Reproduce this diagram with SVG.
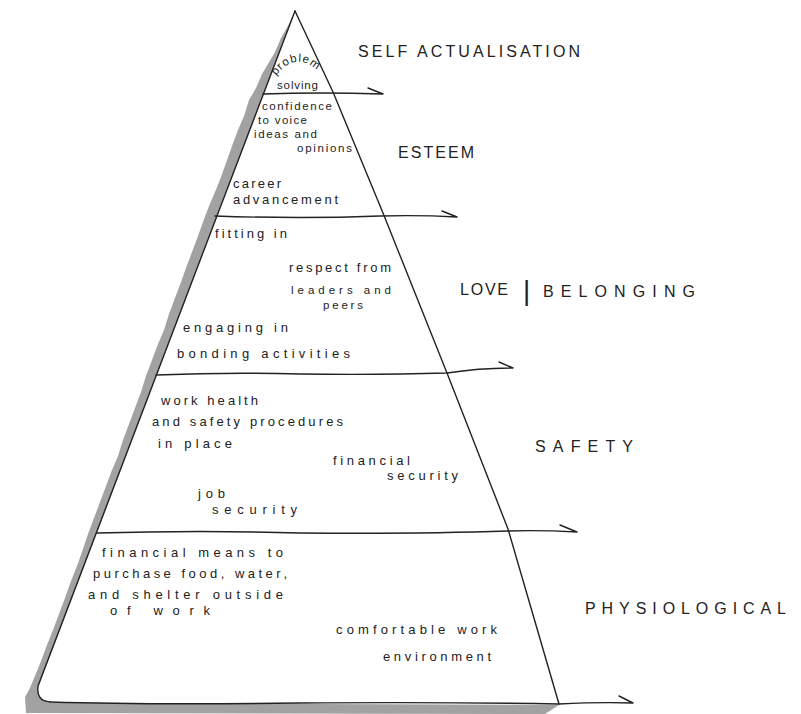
<svg xmlns="http://www.w3.org/2000/svg" width="801" height="714" viewBox="0 0 801 714">
  <style>
    .ink { fill: none; stroke: #222; stroke-width: 1.4; stroke-linecap: round; stroke-linejoin: round; }
    .note { font-family: "Liberation Sans", "DejaVu Sans", sans-serif; font-size: 13px; fill: #222; }
    .tight { font-size: 11.5px; }
    .tier { font-family: "Liberation Sans", "DejaVu Sans", sans-serif; font-size: 16px; fill: #222; }
  </style>
  <rect width="801" height="714" fill="#fff"/>

  <!-- drop shadow along the left side and underneath -->
  <path id="shadow" fill="#a2a2a2"
        d="M295,11 L289,24 L281,38 L275,52 L268,64 L262,74 L256,88 L249,100 L244,116 L238,130 L232,146 L226,163 L221,177 L215,192 L209,206 L203,222 L198,236 L192,252 L186,268 L181,282 L175,298 L169,314 L164,330 L158,344 L152,360 L146,376 L141,392 L135,408 L129,424 L123,440 L118,456 L112,470 L106,486 L100,502 L94,518 L88,534 L83,549 L77,566 L71,581 L65,598 L59,614 L53,630 L47,645 L41,661 L35,676 L29,690 L25,697 L26,713 L545,714 L559,705 L48,703 Q37,700 38,688 L295,11 Z"/>

  <!-- pyramid outline -->
  <g id="pyramid">
    <path class="ink" d="M295,11 L38,686 Q36,701 50,702"/>
    <path class="ink" d="M295,11 L333,92 L383,213 L447,373 L508,529 L559,704"/>
  </g>

  <!-- tier dividers, each running out past the right edge into a hook -->
  <g id="connectors">
    <path class="ink" d="M263,94 Q320,92 383,94 M368,88 L383,94"/>
    <path class="ink" d="M215,216 Q300,219 380,216 Q420,215 457,217 M442,211 L457,217"/>
    <path class="ink" d="M156,375 Q230,372 300,374 Q380,375 447,373 Q480,368 513,368 M499,362 L513,368"/>
    <path class="ink" d="M97,533 Q200,530 300,533 Q420,534 508,531 Q540,530 577,532 M560,525 L577,532"/>
    <path class="ink" d="M50,702 Q150,705 300,703 Q450,702 559,704 Q600,702 633,703 M619,696 L633,703"/>
  </g>

  <g id="self-actualisation">
    <path id="arc" d="M276,76 Q297,48 322,75" fill="none"/>
    <text class="note tight"><textPath href="#arc" textLength="48" lengthAdjust="spacing">problem</textPath></text>
    <text class="note tight" x="277" y="89" textLength="41" lengthAdjust="spacing">solving</text>
    <text class="tier" x="358" y="57" textLength="222" lengthAdjust="spacing">SELF ACTUALISATION</text>
  </g>

  <g id="esteem">
    <text class="note tight" x="262" y="110" textLength="70" lengthAdjust="spacing">confidence</text>
    <text class="note tight" x="258" y="124" textLength="49" lengthAdjust="spacing">to voice</text>
    <text class="note tight" x="254" y="138" textLength="63" lengthAdjust="spacing">ideas and</text>
    <text class="note tight" x="297" y="152" textLength="55" lengthAdjust="spacing">opinions</text>
    <text class="note" x="233" y="188" textLength="48" lengthAdjust="spacing">career</text>
    <text class="note" x="233" y="204" textLength="105" lengthAdjust="spacing">advancement</text>
    <text class="tier" x="398" y="158" textLength="76" lengthAdjust="spacing">ESTEEM</text>
  </g>

  <g id="love-belonging">
    <text class="note" x="215" y="238" textLength="72" lengthAdjust="spacing">fitting in</text>
    <text class="note" x="289" y="272" textLength="102" lengthAdjust="spacing">respect from</text>
    <text class="note tight" x="291" y="294" textLength="100" lengthAdjust="spacing">leaders and</text>
    <text class="note tight" x="323" y="309" textLength="40" lengthAdjust="spacing">peers</text>
    <text class="note" x="183" y="332" textLength="105" lengthAdjust="spacing">engaging in</text>
    <text class="note" x="177" y="358" textLength="173" lengthAdjust="spacing">bonding activities</text>
    <text class="tier" x="460" y="295">
      <tspan textLength="48" lengthAdjust="spacing">LOVE</tspan><tspan x="523" y="300" font-size="28" font-weight="300">|</tspan><tspan x="543" y="297" textLength="152" lengthAdjust="spacing">BELONGING</tspan>
    </text>
  </g>

  <g id="safety">
    <text class="note" x="161" y="405" textLength="97" lengthAdjust="spacing">work health</text>
    <text class="note" x="152" y="426" textLength="191" lengthAdjust="spacing">and safety procedures</text>
    <text class="note" x="158" y="448" textLength="74" lengthAdjust="spacing">in place</text>
    <text class="note" x="333" y="465" textLength="77" lengthAdjust="spacing">financial</text>
    <text class="note" x="387" y="480" textLength="71" lengthAdjust="spacing">security</text>
    <text class="note" x="198" y="498" textLength="27" lengthAdjust="spacing">job</text>
    <text class="note" x="212" y="514" textLength="85" lengthAdjust="spacing">security</text>
    <text class="tier" x="535" y="452" font-size="18" textLength="98" lengthAdjust="spacing">SAFETY</text>
  </g>

  <g id="physiological">
    <text class="note" x="102" y="557" textLength="181" lengthAdjust="spacing">financial means to</text>
    <text class="note" x="93" y="578" textLength="194" lengthAdjust="spacing">purchase food, water,</text>
    <text class="note" x="88" y="599" textLength="195" lengthAdjust="spacing">and shelter outside</text>
    <text class="note" x="110" y="615" textLength="100" lengthAdjust="spacing">of work</text>
    <text class="note" x="336" y="634" textLength="161" lengthAdjust="spacing">comfortable work</text>
    <text class="note" x="383" y="661" textLength="108" lengthAdjust="spacing">environment</text>
    <text class="tier" x="585" y="614" font-size="19" textLength="201" lengthAdjust="spacing">PHYSIOLOGICAL</text>
  </g>
</svg>
